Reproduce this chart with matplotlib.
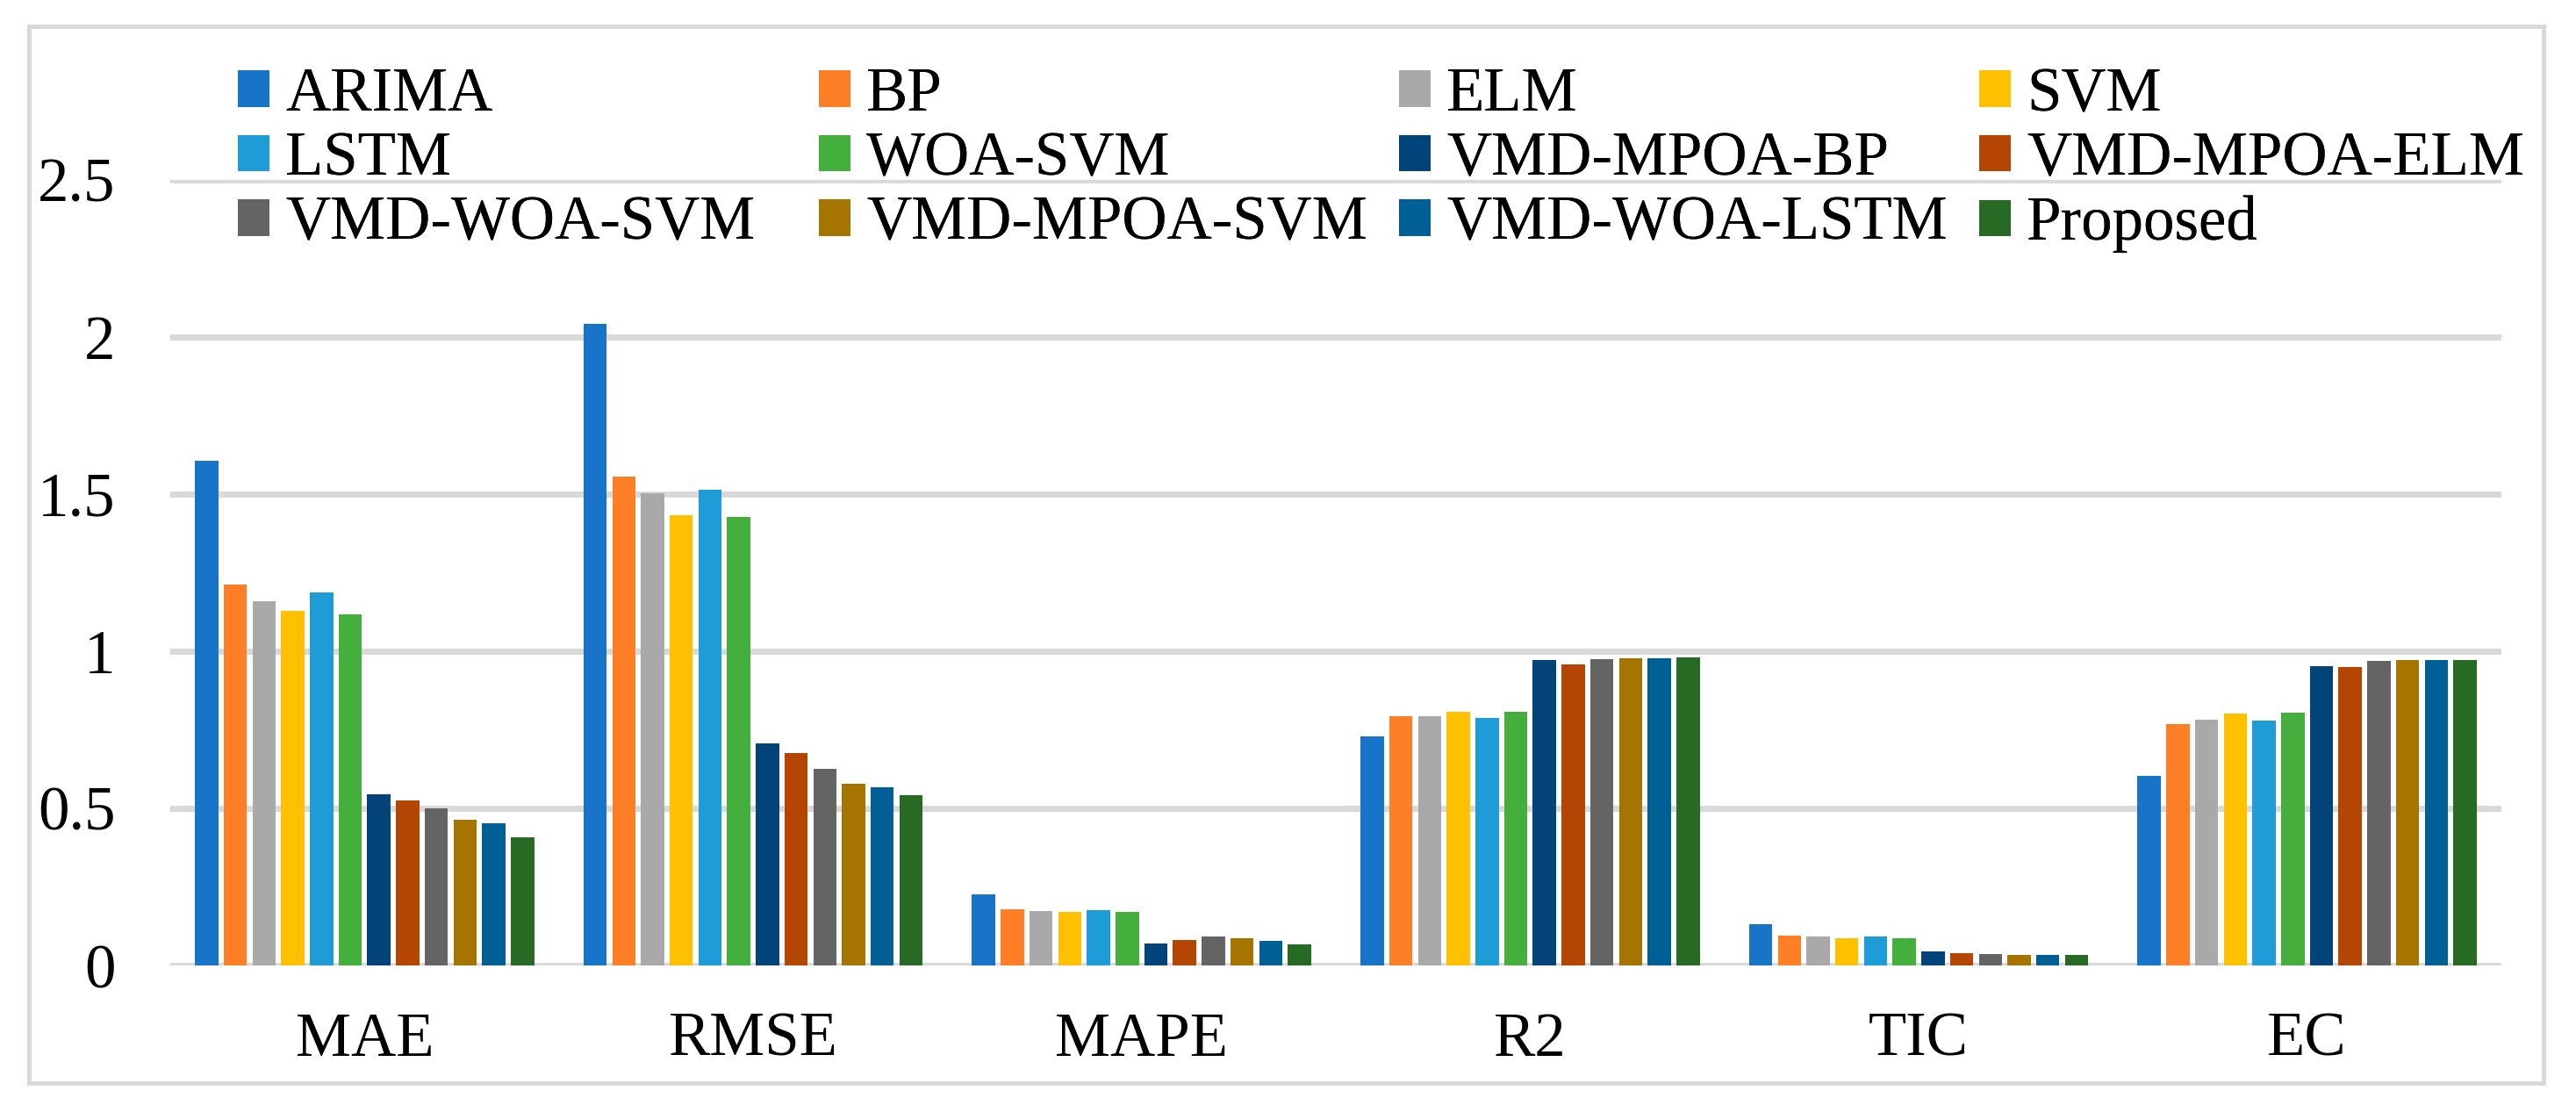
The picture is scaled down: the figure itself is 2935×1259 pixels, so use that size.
import matplotlib
matplotlib.use('Agg')
import matplotlib.pyplot as plt
from matplotlib.patches import Rectangle, Patch
import numpy as np

# metrics on the x axis
metrics = ['MAE', 'RMSE', 'MAPE', 'R2', 'TIC', 'EC']
models = ['ARIMA', 'BP', 'ELM', 'SVM', 'LSTM', 'WOA-SVM',
          'VMD-MPOA-BP', 'VMD-MPOA-ELM', 'VMD-WOA-SVM', 'VMD-MPOA-SVM',
          'VMD-WOA-LSTM', 'Proposed']

# values per model, in the order of metrics
arima = [1.606, 2.043, 0.225, 0.729, 0.131, 0.602]
bp = [1.213, 1.556, 0.180, 0.792, 0.095, 0.769]
elm = [1.158, 1.502, 0.173, 0.792, 0.093, 0.783]
svm = [1.128, 1.432, 0.170, 0.806, 0.086, 0.802]
lstm = [1.187, 1.514, 0.177, 0.789, 0.093, 0.780]
woa_svm = [1.117, 1.428, 0.170, 0.806, 0.086, 0.805]
vmd_mpoa_bp = [0.546, 0.706, 0.071, 0.972, 0.045, 0.953]
vmd_mpoa_elm = [0.524, 0.675, 0.080, 0.958, 0.039, 0.950]
vmd_woa_svm = [0.499, 0.625, 0.091, 0.975, 0.036, 0.969]
vmd_mpoa_svm = [0.465, 0.578, 0.086, 0.978, 0.033, 0.972]
vmd_woa_lstm = [0.452, 0.566, 0.077, 0.978, 0.033, 0.972]
proposed = [0.407, 0.541, 0.066, 0.980, 0.033, 0.972]

series = [arima, bp, elm, svm, lstm, woa_svm, vmd_mpoa_bp, vmd_mpoa_elm,
          vmd_woa_svm, vmd_mpoa_svm, vmd_woa_lstm, proposed]
colors = ['#1874c9', '#ff7f27', '#a9a9a9', '#ffc000', '#1e9cd8', '#44af3c',
          '#02437a', '#b54502', '#646464', '#a67500', '#005f94', '#266a23']

plt.rcParams['font.family'] = ['Liberation Serif', 'DejaVu Serif']

W, H = 2935, 1259
fig = plt.figure(figsize=(W / 100, H / 100), dpi=100)
ax = fig.add_axes([194 / W, 1 - 1100 / H, (2850 - 194) / W, (1100 - 205) / H])

x = np.arange(len(metrics))
pitch = 0.0739
width = 0.06
n = len(series)
for i, (vals, c) in enumerate(zip(series, colors)):
    ax.bar(x + (i - (n - 1) / 2) * pitch, vals, width, color=c, zorder=3)

ax.set_xlim(-0.5, len(metrics) - 0.5)
ax.set_ylim(0, 2.5)
ax.set_yticks([0, 0.5, 1, 1.5, 2, 2.5])
ax.set_yticklabels(['0', '0.5', '1', '1.5', '2', '2.5'])
ax.set_xticks(x)
ax.set_xticklabels(metrics)
ax.tick_params(axis='y', length=0, pad=45, labelsize=51)
ax.tick_params(axis='x', length=0, pad=38, labelsize=51)
ax.grid(axis='y', color='#d9d9d9', linewidth=5, zorder=0)
ax.set_axisbelow(True)
for s in ax.spines.values():
    s.set_visible(False)
ax.patch.set_alpha(0)

# legend, 4 columns placed like the original
handles = [Patch(facecolor=c) for c in colors]
col_x = [271, 933, 1594, 2255]
for k, cx in enumerate(col_x):
    idx = [k, k + 4, k + 8]
    leg = fig.legend([handles[j] for j in idx], [models[j] for j in idx],
                     loc='upper left', bbox_to_anchor=(cx / W, 1 - 76 / H),
                     frameon=False, fontsize=51, handlelength=0.51,
                     handleheight=0.52, handletextpad=0.25, labelspacing=0.12,
                     borderpad=0, borderaxespad=0)
    fig.add_artist(leg)

# outer light grey frame
fig.add_artist(Rectangle((33 / W, 1 - 1234 / H), (2898 - 33) / W, (1234 - 30) / H,
                         transform=fig.transFigure, fill=False,
                         edgecolor='#d9d9d9', linewidth=3.6))

fig.savefig('out.png', dpi=100)
